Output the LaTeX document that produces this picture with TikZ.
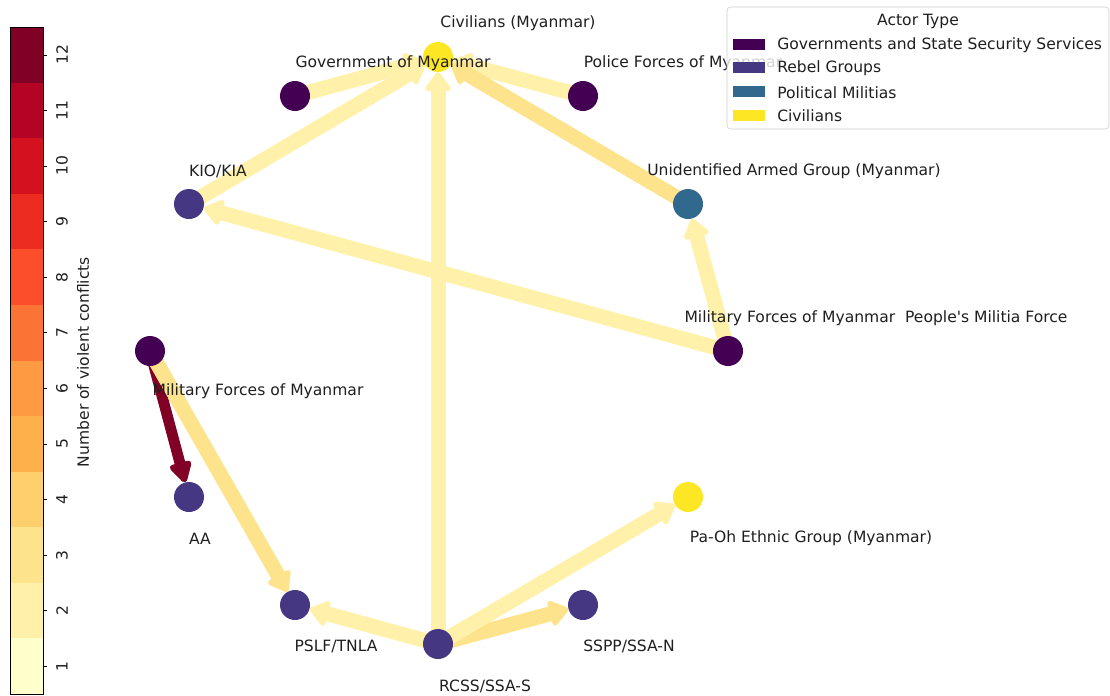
\documentclass[tikz,border=0pt]{standalone}
\usepackage{fontspec}
\setmainfont{DejaVu Sans}
\usetikzlibrary{arrows.meta}

\pgfdeclarelayer{edges}
\pgfsetlayers{edges,main}

% actor types
\definecolor{gov}{HTML}{440154}
\definecolor{rebel}{HTML}{453781}
\definecolor{militia}{HTML}{31688E}
\definecolor{civil}{HTML}{FDE725}
% colour levels (number of conflicts)
\definecolor{lv1}{HTML}{FFFFCC}
\definecolor{lv2}{HTML}{FFF1A9}
\definecolor{lv3}{HTML}{FEE38D}
\definecolor{lv4}{HTML}{FED06D}
\definecolor{lv5}{HTML}{FEB14B}
\definecolor{lv6}{HTML}{FD9A42}
\definecolor{lv7}{HTML}{FC7435}
\definecolor{lv8}{HTML}{FC4E2A}
\definecolor{lv9}{HTML}{EC2B21}
\definecolor{lv10}{HTML}{D4111F}
\definecolor{lv11}{HTML}{B40426}
\definecolor{lv12}{HTML}{800026}

\tikzset{
    actor/.style={circle, fill=#1, minimum size=21.6pt, inner sep=0pt},
    lbl/.style={font=\fontsize{11.2}{13.4}\selectfont, text=black!88, inner sep=0pt},
    conflict/.style={line width=10.8pt, draw=#1, -{Triangle[length=15pt,width=21pt,round]}},
    heavy/.style={line width=7.8pt, draw=#1, -{Triangle[length=17pt,width=17.5pt,round]}}
}

\begin{document}
\begin{tikzpicture}[x=0.72pt, y=-0.72pt]
    \useasboundingbox (0,0) rectangle (1110,696);

    % --- カラーバー ---
    \foreach \i in {1,...,12} {
        \fill[lv\i] (10,{694-\i*55.58}) rectangle (43,{694-(\i-1)*55.58});
        \draw[thin] (43,{694-(\i-0.5)*55.58}) -- (47,{694-(\i-0.5)*55.58});
        \node[lbl, rotate=90] (tick\i) at (62,{694-(\i-0.5)*55.58}) {\i};
    }
    \draw[thin] (10,27) rectangle (43,694);
    \node[lbl, rotate=90] (cbar) at (83,362) {Number of violent conflicts};

    % --- アクター ---
    \foreach \n/\x/\y/\c in {civ/438/57/civil, gov/295/96/gov, police/583/96/gov,
        kio/189/204/rebel, uag/688/204/militia, mfm/150/351/gov, pmf/728/351/gov,
        aa/189/497/rebel, paoh/688/497/civil, pslf/295/605/rebel,
        sspp/583/605/rebel, rcss/438/644/rebel} {
        \node[actor=\c] (\n) at (\x,\y) {};
    }

    % --- 衝突（矢印） ---
    \begin{pgfonlayer}{edges}
        \draw[heavy=lv12] (mfm.center) -- (aa);
        \foreach \a/\b/\c in {gov/civ/lv2, kio/civ/lv2, police/civ/lv2, uag/civ/lv3,
            rcss/civ/lv2, pmf/uag/lv2, pmf/kio/lv2, mfm/pslf/lv3, rcss/pslf/lv2,
            rcss/sspp/lv3, rcss/paoh/lv2} {
            \draw[conflict=\c] (\a.center) -- (\b);
        }
    \end{pgfonlayer}

    % --- ラベル ---
    \node[lbl] (civ-l) at (518,23.5) {Civilians (Myanmar)};
    \node[lbl] (gov-l) at (393,63.5) {Government of Myanmar};
    \node[lbl] (police-l) at (683,63.5) {Police Forces of Myanmar};
    \node[lbl] (kio-l) at (218,171.5) {KIO/KIA};
    \node[lbl] (uag-l) at (794,171.5) {Unidentified Armed Group (Myanmar)};
    \node[lbl] (pmf-l) at (876,318.5) {Military Forces of Myanmar\ \ People\textquotesingle s Militia Force};
    \node[lbl] (mfm-l) at (258,391.5) {Military Forces of Myanmar};
    \node[lbl] (aa-l) at (200,538.5) {AA};
    \node[lbl] (paoh-l) at (811,538.5) {Pa-Oh Ethnic Group (Myanmar)};
    \node[lbl] (pslf-l) at (336,646.5) {PSLF/TNLA};
    \node[lbl] (sspp-l) at (629,646.5) {SSPP/SSA-N};
    \node[lbl] (rcss-l) at (485,686) {RCSS/SSA-S};

    % --- 凡例 ---
    \draw[black!20, fill=white, fill opacity=0.8, rounded corners=2.5pt] (727,7) rectangle (1109,129);
    \node[lbl] (leg-title) at (918,21) {Actor Type};
    \foreach \c/\t [count=\k] in {gov/Governments and State Security Services,
        rebel/Rebel Groups, militia/Political Militias, civil/Civilians} {
        \fill[\c] (733,{44+(\k-1)*23.7-5.5}) rectangle (765,{44+(\k-1)*23.7+5.5});
        \node[lbl, anchor=west] (leg\k) at (777,{45+(\k-1)*23.7}) {\t};
    }
\end{tikzpicture}
\end{document}
